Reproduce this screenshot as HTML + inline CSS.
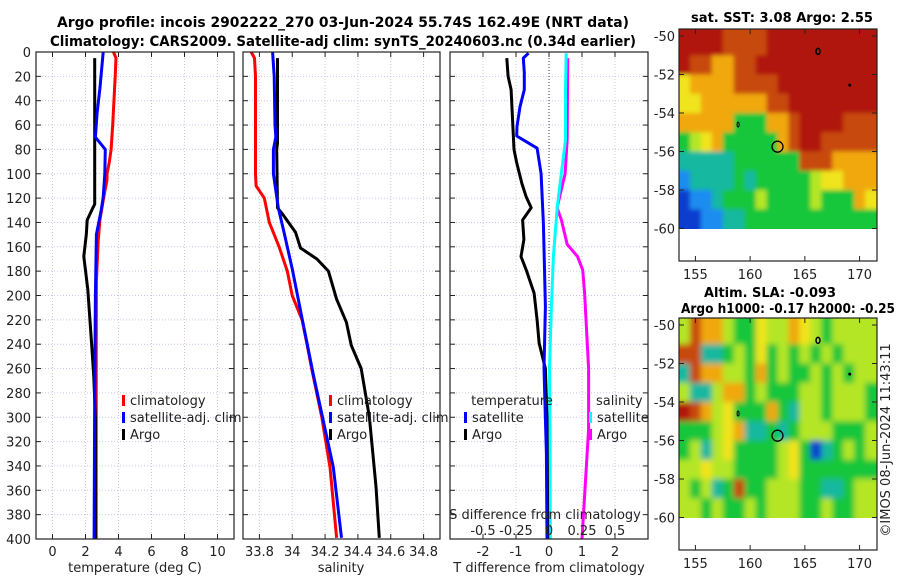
<!DOCTYPE html>
<html><head><meta charset="utf-8"><style>
html,body{margin:0;padding:0;background:#fff;width:900px;height:580px;overflow:hidden}
svg text{font-family:"DejaVu Sans","Liberation Sans",sans-serif;fill:#222}
</style></head><body>
<svg id="fig" xmlns="http://www.w3.org/2000/svg" width="900" height="580" viewBox="0 0 900 580">
<defs>
<filter id="blur1" x="-5%" y="-5%" width="110%" height="110%"><feGaussianBlur stdDeviation="2"/></filter>
<filter id="blur2" x="-5%" y="-5%" width="110%" height="110%"><feGaussianBlur stdDeviation="3"/></filter>
<clipPath id="clip1"><rect x="679" y="29" width="198" height="200"/></clipPath>
<clipPath id="clip2"><rect x="679" y="318" width="198" height="200"/></clipPath>
</defs>
<text x="343" y="27" text-anchor="middle" font-size="14" font-weight="bold" textLength="572" lengthAdjust="spacingAndGlyphs" style="fill:#000">Argo profile: incois 2902222_270 03-Jun-2024 55.74S 162.49E (NRT data)</text>
<text x="343" y="46" text-anchor="middle" font-size="14" font-weight="bold" textLength="586" lengthAdjust="spacingAndGlyphs" style="fill:#000">Climatology: CARS2009. Satellite-adj clim: synTS_20240603.nc (0.34d earlier)</text>
<g id="p1"></g>
<g id="p2"></g>
<g id="p3"></g>
<g id="m1"></g>
<g id="m2"></g>
<text x="782" y="22" text-anchor="middle" font-size="13" font-weight="bold" textLength="182" lengthAdjust="spacingAndGlyphs" style="fill:#000">sat. SST: 3.08 Argo: 2.55</text>
<text x="770" y="297" text-anchor="middle" font-size="13" font-weight="bold" textLength="132" lengthAdjust="spacingAndGlyphs" style="fill:#000">Altim. SLA: -0.093</text>
<text x="788" y="313" text-anchor="middle" font-size="13" font-weight="bold" textLength="214" lengthAdjust="spacingAndGlyphs" style="fill:#000">Argo h1000: -0.17 h2000: -0.25</text>
<text transform="translate(890,440) rotate(-90)" text-anchor="middle" font-size="13">©IMOS 08-Jun-2024 11:43:11</text>
</svg>
<script>
// ---- data ----
const depthTicks = [0,20,40,60,80,100,120,140,160,180,200,220,240,260,280,300,320,340,360,380,400];
const tempTicks = [0,2,4,6,8,10];
const salTicks = [33.8,34,34.2,34.4,34.6,34.8];
const salTickLabels = ["33.8","34","34.2","34.4","34.6","34.8"];
const tdiffTicks = [-2,-1,0,1,2];
const sdiffTicks = [-0.5,-0.25,0,0.25,0.5];
const sdiffTickLabels = ["-0.5","-0.25","0","0.25","0.5"];

const climDepth = [0,5,20,60,80,90,100,105,120,138,155,188,250,300,400];
const climTemp = [3.7,3.85,3.8,3.65,3.55,3.45,3.3,3.3,3.1,2.87,2.77,2.66,2.65,2.65,2.65];
const satDepth = [0,30,50,70,80,100,119,130,150,200,300,400];
const satTemp = [3.07,2.87,2.7,2.6,3.2,3.17,3.07,2.95,2.66,2.6,2.55,2.52];
const argoDepth = [5,125,128,138,150,168,195,242,267,300,400];
const argoTemp = [2.56,2.56,2.45,2.1,2.05,1.9,2.14,2.38,2.5,2.6,2.6];

const climSDepth = [0,5,20,100,110,120,140,160,180,200,220,240,261,300,341,399];
const climSal = [33.75,33.77,33.776,33.776,33.78,33.83,33.86,33.92,33.97,34.0,34.06,34.09,34.12,34.18,34.23,34.27];
const satSDepth = [0,20,60,70,80,100,128,148,178,219,266,341,399];
const satSal = [33.88,33.89,33.895,33.9,33.885,33.885,33.915,33.95,34.0,34.06,34.13,34.25,34.30];
const argoSDepth = [5,75,80,128,133,148,161,170,180,203,222,241,260,300,357,399];
const argoSal = [33.91,33.91,33.905,33.91,33.94,34.02,34.05,34.15,34.22,34.27,34.33,34.36,34.42,34.47,34.51,34.53];

const dTDepth = [5,20,31,58,80,91,108,119,128,138,154,168,179,198,220,239,260,300,350,400];
const argoTDiff = [-1.28,-1.24,-1.15,-1.1,-1.06,-0.98,-0.82,-0.69,-0.54,-0.8,-0.76,-0.85,-0.69,-0.45,-0.36,-0.3,-0.11,-0.06,-0.05,-0.04];
const satTDepth = [1,5,17,31,45,61,69,79,100,141,209,260,330,400];
const satTDiff = [-0.62,-0.78,-0.75,-0.75,-0.88,-0.97,-0.98,-0.36,-0.24,-0.17,-0.11,-0.15,-0.08,-0.06];
const satSDiffDepth = [1,31,72,127,168,209,260,330,400];
const satSDiff = [0.13,0.125,0.125,0.063,0.033,0.018,0.004,0.008,0.01];
const argoSDiffDepth = [5,72,100,119,128,138,158,168,179,198,260,310,400];
const argoSDiff = [0.142,0.138,0.122,0.08,0.061,0.094,0.138,0.216,0.255,0.27,0.3,0.3,0.25];

const mapLonTicks = [155,160,165,170];
const mapLatTicks = [-50,-52,-54,-56,-58,-60];
const palette = ["#0a3ccf","#1c8cf0","#18b8a0","#12c63a","#b4e628","#f0e41c","#f0a80e","#c84a0c","#b01408"];
const sstGrid = [
"888877778888888888",
"877667788888888888",
"566667777888888888",
"556666667788888888",
"666663336678888777",
"345633333678877777",
"222223333337776666",
"122223233333455666",
"011233343333433365",
"001122333333333333"];
const slaGrid = [
"476643354465434444",
"772234353434343444",
"276644363433434344",
"422466343334434443",
"876453336324434443",
"333456223234443334",
"342453333453023434",
"445443333453333333",
"434237334443322344",
"443433434443343344"];
const floatLon = [162.5]; const floatLat = [-55.75];

// ---- helpers ----
const NS="http://www.w3.org/2000/svg";
function mk(tag, attrs, parent){const e=document.createElementNS(NS,tag);for(const k in attrs)e.setAttribute(k,attrs[k]);parent.appendChild(e);return e;}
const Y0=52, Y1=539;
function yD(d){return Y0+d/400*(Y1-Y0);}

function panel(g, x0, x1, xmin, xmax, xt, xtl, showY){
  const xs=v=>x0+(v-xmin)/(xmax-xmin)*(x1-x0);
  for(const d of depthTicks){
    const l=mk('line',{x1:x0,x2:x1,y1:yD(d),y2:yD(d),stroke:'#c4c8ea','stroke-width':1,'stroke-dasharray':'1,2'},g);
    
    
    mk('line',{x1:x0,x2:x0+5,y1:yD(d),y2:yD(d),stroke:'#222'},g);
    mk('line',{x1:x1-5,x2:x1,y1:yD(d),y2:yD(d),stroke:'#222'},g);
    if(showY){const t=mk('text',{x:x0-5,y:yD(d)+5,'text-anchor':'end','font-size':13},g);t.textContent=d;
      
      }
  }
  xt.forEach((v,i)=>{
    const l=mk('line',{x1:xs(v),x2:xs(v),y1:Y0,y2:Y1,stroke:'#dcc4d8','stroke-width':1,'stroke-dasharray':'1,2'},g);
    
    
    mk('line',{x1:xs(v),x2:xs(v),y1:Y1-5,y2:Y1,stroke:'#222'},g);
    mk('line',{x1:xs(v),x2:xs(v),y1:Y0,y2:Y0+5,stroke:'#222'},g);
    const t=mk('text',{x:xs(v),y:Y1+17,'text-anchor':'middle','font-size':13},g);t.textContent=xtl[i];
    
    
  });
  return xs;
}
function frame(g,x0,x1){const r=mk('rect',{x:x0,y:Y0,width:x1-x0,height:Y1-Y0,fill:'none',stroke:'#222','stroke-width':1.2},g);
  
  }
function line(g, xs, vals, depths, color, name){
  const pts=vals.map((v,i)=>xs(v).toFixed(1)+','+yD(depths[i]).toFixed(1)).join(' ');
  const p=mk('polyline',{points:pts,fill:'none',stroke:color,'stroke-width':3,'stroke-linejoin':'round'},g);
  
  
}
function legend(g,x,y,color,label,name){
  mk('rect',{x:x,y:y-10,width:3,height:11,fill:color},g);
  const t=mk('text',{x:x+8,y:y,'font-size':13},g);t.textContent=label;
  
  
}
function label(g,x,y,s,name){const t=mk('text',{x:x,y:y,'text-anchor':'middle','font-size':13},g);t.textContent=s;
  
  }

// panel 1
const g1=document.getElementById('p1');
const x1s=panel(g1,36,234,-1,11,tempTicks,tempTicks.map(String),true);
line(g1,x1s,climTemp,climDepth,'#f00','climatology-temp-line');
line(g1,x1s,argoTemp,argoDepth,'#000','argo-temp-line');
line(g1,x1s,satTemp,satDepth,'#00f','satellite-temp-line');
frame(g1,36,234);
legend(g1,122,405,'#f00','climatology','legend-climatology');
legend(g1,122,422,'#00f','satellite-adj. clim','legend-satellite');
legend(g1,122,439,'#000','Argo','legend-argo');
label(g1,135,572,'temperature (deg C)','x-axis-title-temperature');

// panel 2
const g2=document.getElementById('p2');
const x2s=panel(g2,243,440,33.7,34.9,salTicks,salTickLabels,false);
line(g2,x2s,climSal,climSDepth,'#f00','climatology-sal-line');
line(g2,x2s,argoSal,argoSDepth,'#000','argo-sal-line');
line(g2,x2s,satSal,satSDepth,'#00f','satellite-sal-line');
frame(g2,243,440);
legend(g2,329,405,'#f00','climatology','legend-climatology-2');
legend(g2,329,422,'#00f','satellite-adj. clim','legend-satellite-2');
legend(g2,329,439,'#000','Argo','legend-argo-2');
label(g2,341,572,'salinity','x-axis-title-salinity');

// panel 3
const g3=document.getElementById('p3');
const x3s=panel(g3,450,648,-3,3,tdiffTicks,tdiffTicks.map(String),false);
const xSs=v=>x3s(v*4);
mk('line',{x1:x3s(0),x2:x3s(0),y1:Y0,y2:Y1,stroke:'#333','stroke-dasharray':'1,2'},g3);
line(g3,xSs,argoSDiff,argoSDiffDepth,'#f0f','argo-sdiff-line');
line(g3,xSs,satSDiff,satSDiffDepth,'#0ff','satellite-sdiff-line');
line(g3,x3s,argoTDiff,dTDepth,'#000','argo-tdiff-line');
line(g3,x3s,satTDiff,satTDepth,'#00f','satellite-tdiff-line');
frame(g3,450,648);
label(g3,512,405,'temperature','legend-temperature-header');
legend(g3,464,422,'#00f','satellite','legend-t-satellite');
legend(g3,464,439,'#000','Argo','legend-t-argo');
const sh=mk('text',{x:596,y:405,'font-size':13},g3);sh.textContent='salinity';


legend(g3,589,422,'#0ff','satellite','legend-s-satellite');
legend(g3,589,439,'#f0f','Argo','legend-s-argo');
label(g3,545,519,'S difference from climatology','s-axis-title');
sdiffTicks.forEach((v,i)=>label(g3,xSs(v),535,sdiffTickLabels[i],'s-tick-label'));
label(g3,549,572,'T difference from climatology','x-axis-title-tdiff');

// maps
function map(g, top, grid, name, clipId, filterId){
  const L=679,R=877,B=top+232;
  const lx=v=>L+(v-153.5)/18*(R-L-1);
  const yLat=lat=>top+7+(-50-lat)*19.25;
  const cols=grid[0].length;
  const cg=mk('g',{'clip-path':'url(#'+clipId+')'},g);
  const fg=mk('g',{filter:'url(#'+filterId+')'},cg);
  grid.forEach((row,r)=>{
    for(let c=0;c<cols;c++){
      const y0=r===0?top-10:yLat(-50-r);
      const y1=r===grid.length-1?yLat(-60)+10:yLat(-50-r-1);
      const x0=c===0?L-10:lx(153.5+c);
      const x1=c===cols-1?R+10:lx(154.5+c);
      const rc=mk('rect',{x:x0,y:y0,width:x1-x0+0.5,height:y1-y0+0.5,fill:palette[+row[c]]},fg);
      
      
    }
  });
  mk('rect',{x:L,y:yLat(-60)+0.5,width:R-L,height:B-yLat(-60),fill:'#fff'},g);
  const fr=mk('rect',{x:L,y:top,width:R-L,height:B-top,fill:'none',stroke:'#222','stroke-width':1.2},g);
  
  
  mapLonTicks.forEach(v=>{
    mk('line',{x1:lx(v),x2:lx(v),y1:B-5,y2:B,stroke:'#222'},g);
    mk('line',{x1:lx(v),x2:lx(v),y1:top,y2:top+5,stroke:'#222'},g);
    const t=mk('text',{x:lx(v),y:B+18,'text-anchor':'middle','font-size':13},g);t.textContent=v;
    
    
  });
  mapLatTicks.forEach(v=>{
    mk('line',{x1:L,x2:L+5,y1:yLat(v),y2:yLat(v),stroke:'#222'},g);
    mk('line',{x1:R-5,x2:R,y1:yLat(v),y2:yLat(v),stroke:'#222'},g);
    const t=mk('text',{x:L-4,y:yLat(v)+5,'text-anchor':'end','font-size':13},g);t.textContent=v;
    
    
  });
  floatLon.forEach((v,i)=>{
    const c=mk('circle',{cx:lx(v),cy:yLat(floatLat[i]),r:5.5,fill:'none',stroke:'#000','stroke-width':1.3},g);
    
    
  });
  mk('circle',{cx:lx(169.1),cy:yLat(-52.55),r:1.5,fill:'#000'},g);
  mk('ellipse',{cx:lx(166.2),cy:yLat(-50.8),rx:2,ry:3,fill:'none',stroke:'#000','stroke-width':1.5},g);
  mk('ellipse',{cx:lx(158.9),cy:yLat(-54.6),rx:1,ry:2.5,fill:'none',stroke:'#000'},g);
}
map(document.getElementById('m1'),29,sstGrid,'sst-map','clip1','blur1');
map(document.getElementById('m2'),318,slaGrid,'sla-map','clip2','blur2');
</script>
</body></html>
